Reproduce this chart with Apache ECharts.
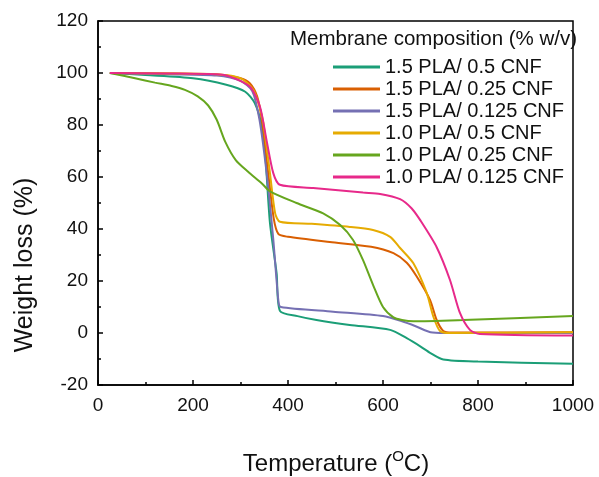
<!DOCTYPE html>
<html>
<head>
<meta charset="utf-8">
<script src="https://cdn.jsdelivr.net/npm/echarts@6/dist/echarts.min.js"></script>
<style>
  html, body { margin: 0; padding: 0; background: #fff; }
  #chart { width: 599px; height: 477px; }
</style>
</head>
<body>
<div id="chart"></div>
<script>
// series names
const names = ['1.5 PLA/ 0.5 CNF', '1.5 PLA/ 0.25 CNF', '1.5 PLA/ 0.125 CNF',
  '1.0 PLA/ 0.5 CNF', '1.0 PLA/ 0.25 CNF', '1.0 PLA/ 0.125 CNF']
const colors = ['#1b9e77', '#d95f02', '#7570b3', '#e6ab02', '#66a61e', '#e7298a']

// temperature (°C) and weight (%)
const tempA = [25, 100, 200, 270, 310, 330, 345, 352, 362, 376, 383, 420, 460, 530, 615, 650, 680, 700, 727, 800, 1000]
const wA = [100, 99.2, 98, 95.5, 92.8, 88.4, 79.5, 69, 42.3, 23, 8.5, 6.5, 5, 3.1, 1.2, -2, -5.3, -7.7, -10.2, -11, -11.8]

const tempB = [25, 150, 250, 300, 320, 335, 345, 358, 370, 380, 400, 488, 575, 622, 650, 671, 699, 713, 727, 745, 1000]
const wB = [100, 99.8, 99.3, 98, 96, 91, 82, 62, 44, 38, 37, 35, 33.2, 30.7, 27, 21.7, 12.7, 5, 0.8, 0.2, 0.3]

const tempC = [25, 150, 250, 300, 325, 340, 355, 369, 380, 385, 495, 600, 640, 670, 700, 730, 1000]
const wC = [100, 99.5, 99, 97, 93, 82, 61.5, 36, 12, 10, 8.2, 6.5, 4.5, 2.5, 0.3, 0, 0]

const tempD = [25, 150, 250, 300, 327, 340, 348, 362, 373, 383, 450, 530, 579, 615, 636, 664, 692, 706, 720, 741, 1000]
const wD = [100, 99.8, 99.5, 98, 93.5, 87, 80.8, 61.5, 46, 42.8, 42, 40.8, 39.6, 37, 32.7, 26.8, 15.4, 6.3, 0.8, 0, 0.3]

const tempE = [25, 78, 120, 155, 183, 210, 232, 250, 268, 290, 316, 345, 362, 418, 474, 510, 537, 558, 579, 600, 622, 640, 664, 769, 1000]
const wE = [100, 98, 96.3, 95, 93.5, 91, 87.5, 82, 73.5, 66.5, 62, 57.5, 54.5, 50, 46, 41.5, 35.8, 28, 18.5, 10, 6, 5, 4.5, 5, 6.5]

const tempF = [25, 150, 250, 278, 320, 341, 355, 369, 383, 453, 558, 594, 636, 660, 678, 713, 741, 762, 783, 804, 1000]
const wF = [100, 99.8, 99.5, 98.6, 94.7, 87, 74, 61.5, 57, 55.8, 54, 53.5, 51.5, 48, 43.5, 33, 20.4, 7.7, 1.2, -0.4, -1]

const xTicks = [0, 200, 400, 600, 800, 1000]
const yTicks = [-20, 0, 20, 40, 60, 80, 100, 120]

const temps = [tempA, tempB, tempC, tempD, tempE, tempF]
const weights = [wA, wB, wC, wD, wE, wF]

const font = 'Liberation Sans, Arial, sans-serif'
const chart = echarts.init(document.getElementById('chart'))

const series = names.map((n, i) => ({
  name: n,
  type: 'line',
  data: temps[i].map((t, j) => [t, weights[i][j]]),
  showSymbol: false,
  symbol: 'none',
  smooth: 0.25,
  lineStyle: { color: colors[i], width: 2 },
  itemStyle: { color: colors[i] },
  z: i === 5 ? 3 : 2
}))

const tickStyle = { color: '#000', width: 1.5 }

chart.setOption({
  animation: false,
  backgroundColor: '#fff',
  grid: {
    left: 98, right: 26, top: 21, bottom: 92,
    show: true, borderColor: '#000', borderWidth: 1.5
  },
  legend: {
    orient: 'vertical',
    left: 328, top: 52,
    icon: 'rect',
    itemWidth: 47, itemHeight: 3, itemGap: 2,
    data: names,
    textStyle: { fontFamily: font, fontSize: 20, lineHeight: 20, color: '#111' }
  },
  graphic: [
    {
      type: 'text', left: 290, top: 29,
      style: { text: 'Membrane composition (% w/v)', font: '20.5px ' + font, fill: '#111' }
    },
    {
      type: 'text', x: 25, y: 265, rotation: Math.PI / 2,
      style: { text: 'Weight loss (%)', font: '25px ' + font, fill: '#111', align: 'center', verticalAlign: 'middle' }
    },
    {
      type: 'text', x: 336, y: 463,
      style: {
        text: '{n|Temperature (}{s|O}{n|C)}',
        align: 'center', verticalAlign: 'middle',
        rich: {
          n: { font: '24px ' + font, fill: '#111', verticalAlign: 'bottom' },
          s: { font: '15px ' + font, fill: '#111', verticalAlign: 'top', padding: [0, 0, 12, 0] }
        }
      }
    }
  ],
  xAxis: {
    type: 'value', min: 0, max: 1000, interval: 200,
    axisLine: { onZero: false, lineStyle: tickStyle },
    axisTick: { inside: true, length: 5, lineStyle: tickStyle },
    minorTick: { show: true, splitNumber: 2, length: 3, lineStyle: tickStyle },
    splitLine: { show: false },
    axisLabel: { fontFamily: font, fontSize: 19, color: '#111', margin: 11,
      formatter: v => xTicks.includes(v) ? String(v) : '' }
  },
  yAxis: {
    type: 'value', min: -20, max: 120, interval: 20,
    axisLine: { show: true, onZero: false, lineStyle: tickStyle },
    axisTick: { show: true, inside: true, length: 5, lineStyle: tickStyle },
    minorTick: { show: true, splitNumber: 2, length: 3, lineStyle: tickStyle },
    splitLine: { show: false },
    axisLabel: { fontFamily: font, fontSize: 19, color: '#111', margin: 10,
      formatter: v => yTicks.includes(v) ? String(v) : '' }
  },
  series: series
})
</script>
</body>
</html>
